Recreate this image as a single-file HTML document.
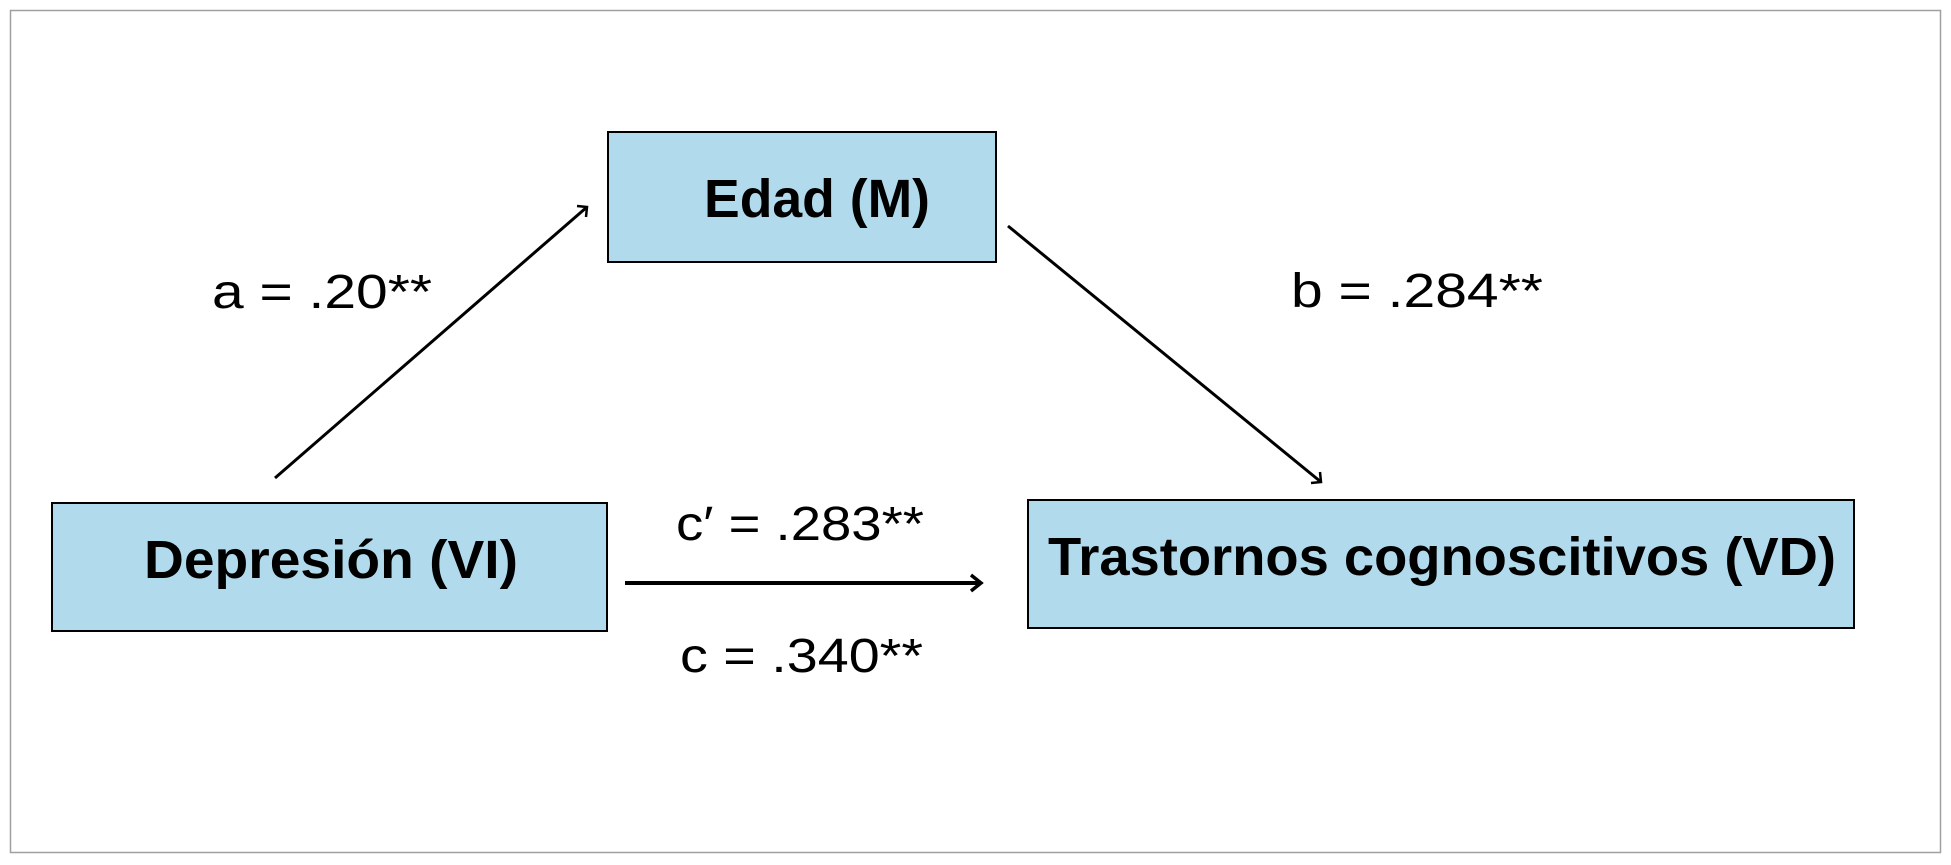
<!DOCTYPE html>
<html><head><meta charset="utf-8"><style>
html,body{margin:0;padding:0;background:#fff;}
svg{display:block;}
</style></head><body>
<svg width="1951" height="865" viewBox="0 0 1951 865" xmlns="http://www.w3.org/2000/svg">
<rect x="10.5" y="10.5" width="1930" height="842" fill="#fff" stroke="#a0a0a0" stroke-width="1.5"/>
<g fill="#b1dbec" stroke="#000" stroke-width="2">
<rect x="608" y="132" width="388" height="130"/>
<rect x="52" y="503" width="555" height="128"/>
<rect x="1028" y="500" width="826" height="128"/>
</g>
<g font-family="'Liberation Sans', sans-serif" font-weight="bold" font-size="54" fill="#000">
<text x="704" y="217" textLength="226" lengthAdjust="spacingAndGlyphs">Edad (M)</text>
<text x="144" y="578" textLength="374" lengthAdjust="spacingAndGlyphs">Depresión (VI)</text>
<text x="1048" y="575" textLength="788" lengthAdjust="spacingAndGlyphs">Trastornos cognoscitivos (VD)</text>
</g>
<g font-family="'Liberation Sans', sans-serif" font-size="48" fill="#000">
<text x="212" y="308" textLength="220" lengthAdjust="spacingAndGlyphs">a = .20**</text>
<text x="1291" y="307" textLength="252" lengthAdjust="spacingAndGlyphs">b = .284**</text>
<text x="676" y="540" textLength="248" lengthAdjust="spacingAndGlyphs">c′ = .283**</text>
<text x="680" y="672" textLength="243" lengthAdjust="spacingAndGlyphs">c = .340**</text>
</g>
<g stroke="#000" fill="none" stroke-linecap="butt">
<line x1="275" y1="478" x2="587" y2="207" stroke-width="3"/>
<polyline points="577,206 587,207 586,217" stroke-width="2.5"/>
<line x1="1008" y1="226" x2="1321" y2="482" stroke-width="3"/>
<polyline points="1311,483 1321,482 1320,472" stroke-width="2.5"/>
<line x1="625" y1="583" x2="981" y2="583" stroke-width="4"/>
<polyline points="971,575 981,583 971,591" stroke-width="3.5"/>
</g>
</svg>
</body></html>
